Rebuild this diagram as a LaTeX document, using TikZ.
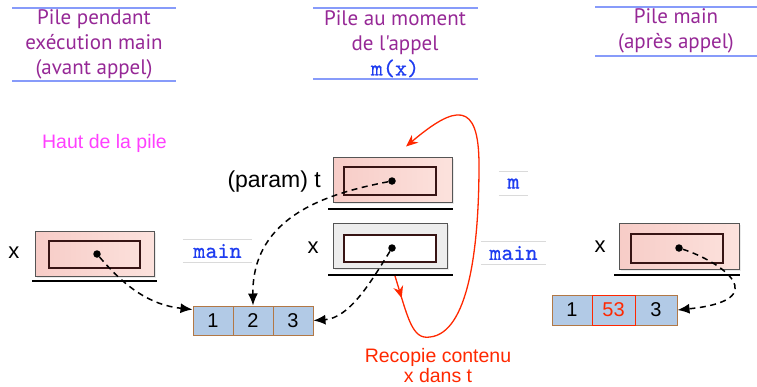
\documentclass[tikz,border=0pt]{standalone}
\usepackage{fontspec}
\setmainfont{Liberation Sans}
\newfontfamily\titlefont{PT Sans}
\newfontfamily\codefont{lmmono10-regular.otf}[FakeBold=0.6]
\usetikzlibrary{arrows.meta,shadows,decorations.markings}

\definecolor{titlepurple}{RGB}{150,40,150}
\definecolor{titlerulecol}{RGB}{135,155,250}
\definecolor{topmagenta}{RGB}{255,64,255}
\definecolor{copyred}{RGB}{255,40,0}
\definecolor{codeblue}{RGB}{30,60,240}
\definecolor{tagrulecol}{RGB}{218,218,218}
\definecolor{pinkA}{RGB}{247,204,199}
\definecolor{pinkB}{RGB}{252,226,221}
\definecolor{framegray}{RGB}{85,85,85}
\definecolor{slotborder}{RGB}{55,20,20}
\definecolor{cellblue}{RGB}{178,202,230}
\definecolor{cellborder}{RGB}{178,120,70}

\begin{document}
\begin{tikzpicture}[x=1pt,y=-1pt,
  title/.style={text=titlepurple, font=\titlefont\fontsize{21}{25}\selectfont, align=center, inner sep=0pt},
  titlerule/.style={draw=titlerulecol, line width=1.2pt},
  frame/.style={rectangle, draw=framegray, line width=1pt, inner sep=0pt,
    drop shadow={shadow xshift=2pt, shadow yshift=-2pt, fill=black!16}},
  pinkframe/.style={frame, left color=pinkA, right color=pinkB},
  grayframe/.style={frame, fill=black!7},
  slot/.style={rectangle, draw=slotborder, line width=1.2pt, inner sep=0pt},
  ptr/.style={circle, fill=black, inner sep=0pt, minimum size=7.5pt},
  floor/.style={line width=1.3pt},
  cell/.style={rectangle, draw=cellborder, fill=cellblue, line width=1pt,
    minimum height=29pt, inner sep=0pt, font=\fontsize{20}{20}\selectfont},
  frametag/.style={text=codeblue, font=\codefont\fontsize{23}{23}\selectfont, inner sep=0pt},
  tagrule/.style={draw=tagrulecol, line width=1pt},
  varname/.style={font=\fontsize{22}{22}\selectfont, inner sep=0pt},
  refarrow/.style={line width=1.5pt, dash pattern=on 6pt off 4.5pt, -{Latex[length=12pt,width=10pt]}},
  copyarrow/.style={draw=copyred, line width=1.3pt, -{Stealth[length=12pt,width=10pt,inset=4pt]},
    postaction={decorate}, decoration={markings,
      mark=at position 0.06 with {\arrow{Stealth[length=12pt,width=10pt,inset=4pt]}}}}
]
\useasboundingbox (0,0) rectangle (757,386);

% column titles
\node[title] (t1) at (94,44) {Pile pendant\\exécution main\\(avant appel)};
\draw[titlerule] (12,8) -- (176,8) (12,81) -- (176,81);
\node[title] (t2) at (395,44) {Pile au moment\\de l'appel\\{\color{codeblue}\codefont\fontsize{23}{23}\selectfont m(x)}};
\draw[titlerule] (313,8) -- (478,8) (313,79) -- (478,79);
\node[title] (t3) at (676,31) {Pile main\\(après appel)};
\draw[titlerule] (595,7) -- (757,7) (595,56) -- (757,56);

\node[text=topmagenta, font=\fontsize{19.5}{19.5}\selectfont, inner sep=0pt] (top) at (104.5,143) {Haut de la pile};

% stack of main, before the call
\node[pinkframe, minimum width=119pt, minimum height=45pt] (fA) at (94.5,253.5) {};
\node[slot, minimum width=91pt, minimum height=27pt] (sA) at (94.5,254.5) {};
\node[ptr] (dA) at (97,254) {};
\node[varname] (xA) at (14,253) {x};
\draw[floor] (32,281) -- (157,281);
\node[frametag, minimum width=69pt, minimum height=22pt] (mainA) at (217.5,251) {main};
\draw[tagrule] (mainA.north west) -- (mainA.north east) (mainA.south west) -- (mainA.south east);

% array 1 2 3
\node[cell, minimum width=40pt] (a1) at (213,320.5) {1};
\node[cell, minimum width=40pt] (a2) at (253,320.5) {2};
\node[cell, minimum width=40pt] (a3) at (293,320.5) {3};

% stack during the call m(x)
\node[pinkframe, minimum width=119pt, minimum height=45pt] (fT) at (392.5,179.5) {};
\node[slot, minimum width=92pt, minimum height=28pt] (sT) at (390,181) {};
\node[ptr] (dT) at (392,181) {};
\node[varname, font=\fontsize{23}{23}\selectfont, anchor=east] (pT) at (321,182) {(param) t};
\draw[floor] (328,209) -- (453,209);

\node[grayframe, minimum width=114pt, minimum height=45pt] (fX) at (390,245.5) {};
\node[slot, fill=white, minimum width=92pt, minimum height=27pt] (sX) at (390,248.5) {};
\node[ptr] (dX) at (392,248) {};
\node[varname] (xX) at (313,248) {x};
\draw[floor] (328,275) -- (453,275);

\node[frametag, minimum width=29pt, minimum height=23pt] (mTag) at (513.5,183.5) {m};
\draw[tagrule] (mTag.north west) -- (mTag.north east) (mTag.south west) -- (mTag.south east);
\node[frametag, minimum width=65pt, minimum height=22pt] (mainB) at (513.5,253) {main};
\draw[tagrule] (mainB.north west) -- (mainB.north east) (mainB.south west) -- (mainB.south east);

% stack of main, after the call
\node[pinkframe, minimum width=120pt, minimum height=46pt] (fR) at (679,246) {};
\node[slot, minimum width=92pt, minimum height=29pt] (sR) at (677,248.5) {};
\node[ptr] (dR) at (679,248) {};
\node[varname] (xR) at (600,247) {x};
\draw[floor] (614,275) -- (740,275);

\node[cell, minimum width=40pt, minimum height=30pt] (b1) at (572,310) {1};
\node[cell, minimum width=42pt, minimum height=30pt] (b3) at (656,310) {3};
\node[cell, draw=copyred, text=copyred, minimum width=43pt, minimum height=30pt] (b2) at (613.5,310) {53};

% references
\draw[refarrow] (dA) .. controls (125,287) and (150,305) .. ([yshift=-4pt]a1.north west);
\draw[refarrow] (dT) .. controls (330,193) and (252,215) .. (a2.north);
\draw[refarrow] (dX) .. controls (372,280) and (350,318) .. (a3.east);
\draw[refarrow] (dR) .. controls (722,262) and (775,300) .. (b3.east);

% copy of x into t
\coordinate (copyStart) at (395,276);
\coordinate (copyEnd) at ([xshift=13.5pt,yshift=10pt]fT.north);
\draw[copyarrow] (copyStart) .. controls (408,318) and (412,340) .. (430,337)
  .. controls (468,333) and (479,250) .. (479,165)
  .. controls (479,100) and (455,105) .. (copyEnd);
\node[text=copyred, font=\fontsize{19.5}{20}\selectfont, align=center, inner sep=0pt] (copyLbl) at (438,366) {Recopie contenu\\x dans t};
\end{tikzpicture}
\end{document}
